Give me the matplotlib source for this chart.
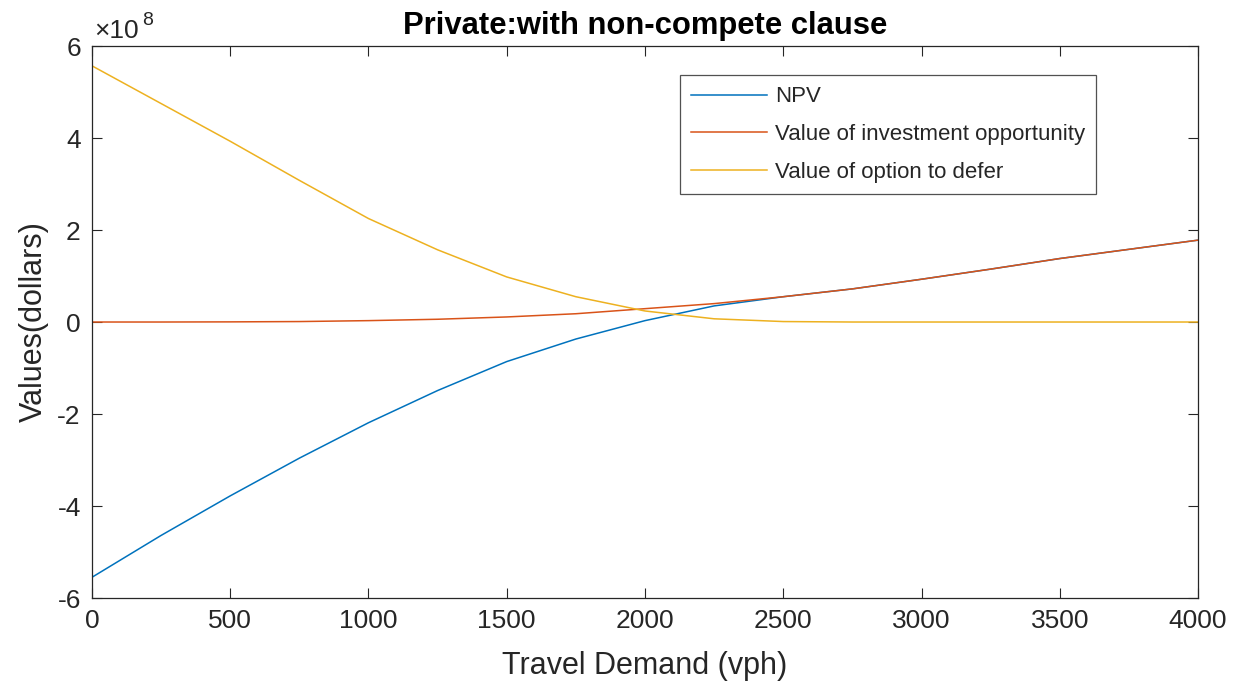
import numpy as np
import matplotlib
matplotlib.use('Agg')
import matplotlib.pyplot as plt

# travel demand (vph) and values, in units of 1e8 dollars
demand = [0, 250, 500, 750, 1000, 1250, 1500, 1750, 2000, 2250, 2500,
          2750, 3000, 3250, 3500, 3750, 4000]
npv = [-5.55, -4.64, -3.78, -2.96, -2.19, -1.49, -0.86, -0.37, 0.03, 0.35, 0.55,
       0.72, 0.93, 1.15, 1.38, 1.58, 1.78]
invest = [0.0, 0.0, 0.003, 0.01, 0.03, 0.06, 0.11, 0.18, 0.29, 0.40, 0.55,
          0.72, 0.93, 1.15, 1.38, 1.58, 1.78]
defer = [5.57, 4.75, 3.93, 3.08, 2.25, 1.57, 0.98, 0.55, 0.24, 0.07, 0.01,
         0.0, 0.0, 0.0, 0.0, 0.0, 0.0]

labels = ['NPV', 'Value of investment opportunity', 'Value of option to defer']
colors = ['#0072BD', '#D95319', '#EDB120']

plt.rcParams['font.family'] = ['Liberation Sans', 'DejaVu Sans']
plt.rcParams['axes.unicode_minus'] = False
txt = '#262626'

fig = plt.figure(figsize=(12.42, 6.94), dpi=100)
ax = fig.add_axes([0.074, 0.1383, 0.8906, 0.7954])

for y, lab, c in zip([npv, invest, defer], labels, colors):
    ax.plot(demand, y, color=c, lw=1.1, label=lab)

ax.set_xlim(0, 4000)
ax.set_ylim(-6, 6)
ax.set_xticks(np.arange(0, 4001, 500))
ax.set_yticks(np.arange(-6, 7, 2))
ax.tick_params(direction='in', length=7, width=0.8, top=True, right=True,
               labelsize=19, colors=txt, pad=8)
for s in ax.spines.values():
    s.set_color(txt)
    s.set_linewidth(0.9)

# exponent label like MATLAB's
ax.text(0.002, 1.005, u'\u00d710', transform=ax.transAxes, fontsize=19,
        color=txt, ha='left', va='bottom')
ax.text(0.045, 1.03, '8', transform=ax.transAxes, fontsize=14,
        color=txt, ha='left', va='bottom')

ax.set_title('Private:with non-compete clause', fontsize=22.3,
             fontweight='bold', color='black', pad=9)
ax.set_xlabel('Travel Demand (vph)', fontsize=22, color=txt, labelpad=13)
ax.set_ylabel('Values(dollars)', fontsize=22, color=txt, labelpad=6)

leg = ax.legend(loc='upper right', bbox_to_anchor=(0.908, 0.947),
                fontsize=16, frameon=True, fancybox=False, borderaxespad=0,
                handlelength=3.4, handletextpad=0.36, labelspacing=0.76,
                borderpad=0.5)
leg.get_frame().set_edgecolor(txt)
leg.get_frame().set_linewidth(0.9)
for t in leg.get_texts():
    t.set_color(txt)

fig.savefig('out.png', dpi=100)
